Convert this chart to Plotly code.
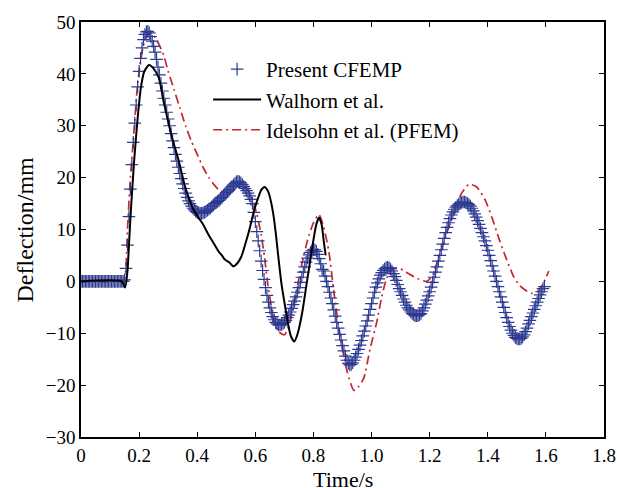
import plotly.graph_objects as go

# ---------------- data ----------------
# Present CFEMP, sampled every 0.005 s from t = 0
present_dt = 0.005
present_y = [
    0, 0, 0, 0, 0, 0, 0, 0, 0, 0,
    0, 0, 0, 0, 0, 0, 0, 0, 0, 0,
    0, 0, 0, 0, 0, 0, 0, 0, 0, 0,
    0.3, 2.5, 7, 12.5, 17.8, 22.5, 26.8, 30.5, 34, 37.5,
    40.5, 43, 45, 46.6, 47.6, 48.1, 48.2, 47.9, 47.2, 46.3,
    45.3, 44.2, 42.8, 41.3, 39.8, 38.2, 36.7, 35.3, 34, 32.6,
    31.3, 30, 28.5, 27.1, 25.8, 24.5, 23.2, 22, 20.8, 19.8,
    18.8, 17.9, 17, 16.2, 15.5, 15, 14.5, 14.1, 13.8, 13.5,
    13.3, 13.2, 13.1, 13.1, 13.2, 13.3, 13.5, 13.7, 13.9, 14.1,
    14.4, 14.7, 15, 15.2, 15.4, 15.6, 15.9, 16.2, 16.5, 16.8,
    17.1, 17.4, 17.7, 18, 18.3, 18.6, 18.9, 19.2, 19.3, 19.2,
    19, 18.7, 18.3, 17.9, 17.5, 17, 16.5, 15.8, 15, 13.3,
    11.5, 9.6, 7.8, 5.9, 3.9, 2.1, 0.4, -1.2, -2.7, -4.0,
    -5.1, -6.0, -6.8, -7.4, -7.9, -8.2, -8.4, -8.4, -8.3, -8.1,
    -7.9, -7.5, -7.0, -6.5, -5.9, -5.2, -4.5, -3.8, -3.0, -2.1,
    -1.2, -0.2, 0.8, 1.8, 2.8, 3.7, 4.5, 5.1, 5.6, 5.9,
    6.1, 6.1, 5.8, 5.2, 4.4, 3.4, 2.3, 2.0, 1.0, 0.0,
    -1.0, -2.1, -3.2, -4.3, -5.5, -6.7, -7.9, -9.0, -10.2, -11.3,
    -12.4, -13.4, -14.4, -15.2, -15.8, -16.1, -16.0, -15.7, -15.2, -14.6,
    -13.9, -13.1, -12.3, -11.4, -10.5, -9.6, -8.6, -7.6, -6.5, -5.4,
    -4.3, -3.2, -2.1, -1.1, -0.3, 0.5, 1.2, 1.7, 2.1, 2.4,
    2.6, 2.7, 2.6, 2.4, 2.0, 1.5, 0.9, 0.2, -0.6, -1.4,
    -2.0, -2.7, -3.4, -4.0, -4.6, -5.1, -5.5, -5.9, -6.2, -6.4,
    -6.6, -6.6, -6.6, -6.4, -6.2, -5.7, -5.1, -4.4, -3.6, -2.8,
    -2.0, -1.1, -0.2, 0.8, 1.8, 2.8, 3.9, 5.0, 6.1, 7.2,
    8.3, 9.4, 10.4, 11.3, 12.1, 12.8, 13.4, 13.9, 14.3, 14.6,
    14.9, 15.1, 15.2, 15.3, 15.3, 15.2, 15.0, 14.8, 14.5, 14.1,
    13.6, 13.0, 12.4, 11.7, 11.0, 10.2, 9.4, 8.6, 7.8, 6.9,
    6.0, 5.0, 4.0, 3.0, 2.0, 1.0, 0.0, -1.0, -2.0, -3.0,
    -4.0, -5.0, -6.0, -7.0, -7.9, -8.7, -9.4, -10.0, -10.4, -10.8,
    -11.0, -11.1, -11.1, -11.0, -10.7, -10.3, -9.7, -9.0, -8.2, -7.5,
    -6.8, -6.1, -5.4, -4.7, -4.0, -3.3, -2.6, -2.0, -1.4, -1.0,
]
present_t = [round(i * present_dt, 3) for i in range(len(present_y))]

walhorn_t = [0, 0.14, 0.152, 0.16, 0.166, 0.172, 0.183, 0.195, 0.206, 0.218,
             0.234, 0.25, 0.268, 0.285, 0.30, 0.313, 0.336, 0.359, 0.376, 0.39,
             0.404, 0.42, 0.438, 0.455, 0.473, 0.485, 0.495, 0.51, 0.524, 0.538,
             0.552, 0.567, 0.581, 0.595, 0.609, 0.62, 0.632, 0.645, 0.66, 0.67,
             0.677, 0.69, 0.70, 0.712, 0.722, 0.734, 0.745, 0.762, 0.775, 0.785,
             0.80, 0.81, 0.819, 0.828, 0.836, 0.842]
walhorn_y = [0, 0, -1.2, 2, 8, 14, 23.3, 31.5, 37.3, 40.5,
             41.7, 41, 39.2, 34.5, 30.8, 27.8, 23.3, 18.1, 15.3, 13.5,
             12.3, 11, 9.1, 7.5, 5.8, 5, 4.2, 3.7, 2.9, 3.5,
             4.8, 7.5, 10.3, 13.5, 16, 17.6, 18.2, 17.2, 13.6, 9.5,
             5.8, -0.5, -4, -8, -10.5, -11.6, -10.2, -5.8, -1, 2.6,
             8, 11, 12.3, 11, 7.5, 5]

idelsohn_t = [0, 0.14, 0.15, 0.155, 0.16, 0.17, 0.177, 0.185, 0.194, 0.205,
              0.215, 0.225, 0.235, 0.245, 0.257, 0.27, 0.285, 0.30, 0.32, 0.34,
              0.36, 0.38, 0.40, 0.42, 0.44, 0.46, 0.48, 0.50, 0.52, 0.54,
              0.56, 0.575, 0.59, 0.605, 0.62, 0.632, 0.643, 0.655, 0.666, 0.68,
              0.70, 0.715, 0.734, 0.755, 0.779, 0.80, 0.819, 0.835, 0.853, 0.87,
              0.893, 0.916, 0.939, 0.955, 0.973, 0.995, 1.018, 1.035, 1.052, 1.07,
              1.086, 1.10, 1.13, 1.16, 1.19, 1.21, 1.235, 1.26, 1.29, 1.31,
              1.335, 1.36, 1.39, 1.415, 1.44, 1.465, 1.49, 1.51, 1.53, 1.55,
              1.57, 1.59, 1.61]
idelsohn_y = [0, 0, 0.5, 3, 10, 20, 25, 31, 37.5, 42.5,
              45.5, 47.2, 47.8, 47.6, 46.8, 45.5, 43.5, 40.5, 37, 33.5,
              30, 27, 24.5, 22, 20, 18.5, 17.3, 16.9, 17.3, 18,
              18.2, 17.6, 15.8, 13, 9, 4.5, -0.6, -4.8, -8.2, -9.7,
              -10.3, -8.6, -4, 2, 7.8, 11.3, 12.9, 10.5, 5.8, -1.9,
              -11, -17.4, -21, -20.3, -18.7, -13, -7.8, -3, 0.6, 2.2,
              2.6, 2.4, 1.4, 0.5, 0, 1.2, 5.3, 9.5, 14.2, 17,
              18.7, 18.3, 15.8, 12.2, 8, 4.2, 0.8, -0.8, -1.7, -2.3,
              -2, -0.5, 2]

x_tickvals = [0, 0.2, 0.4, 0.6, 0.8, 1.0, 1.2, 1.4, 1.6, 1.8]
x_ticktext = ["0", "0.2", "0.4", "0.6", "0.8", "1.0", "1.2", "1.4", "1.6", "1.8"]
y_tickvals = [-30, -20, -10, 0, 10, 20, 30, 40, 50]
x_title = "Time/s"
y_title = "Deflection/mm"

# ---------------- figure ----------------
FONT = "Liberation Serif, Times New Roman, serif"
fig = go.Figure()

fig.add_trace(go.Scatter(
    x=idelsohn_t, y=idelsohn_y, mode="lines", name="Idelsohn et al. (PFEM)",
    line=dict(color="#c4262e", width=1.7, dash="9px,4px,2px,4px", shape="spline", smoothing=0.6),
    legendgroup="c", legendrank=3,
))
fig.add_trace(go.Scatter(
    x=present_t, y=present_y, mode="markers", name="Present CFEMP",
    marker=dict(symbol="cross-thin", size=9, line=dict(color="#2d3a92", width=1.2)),
    legendgroup="a", legendrank=1,
))
fig.add_trace(go.Scatter(
    x=walhorn_t, y=walhorn_y, mode="lines", name="Walhorn et al.",
    line=dict(color="black", width=2, shape="spline", smoothing=0.6),
    legendgroup="b", legendrank=2,
))

axis_common = dict(
    showline=True, linecolor="black", linewidth=1.5, mirror="ticks",
    ticks="inside", ticklen=5, tickwidth=1.2, tickcolor="black",
    showgrid=False, zeroline=False, automargin=False,
    tickfont=dict(family=FONT, size=19, color="black"),
)

fig.update_xaxes(range=[0, 1.8], tickvals=x_tickvals, ticktext=x_ticktext, **axis_common)
fig.update_yaxes(range=[-30, 50], tickvals=y_tickvals, **axis_common)

fig.add_annotation(text=x_title, xref="paper", yref="paper", x=0.5, y=0,
                   xanchor="center", yanchor="top", yshift=-28, showarrow=False,
                   font=dict(family=FONT, size=22, color="black"))
fig.add_annotation(text=y_title, xref="paper", yref="paper", x=0, y=0.5,
                   xanchor="right", yanchor="middle", xshift=-42, textangle=-90,
                   showarrow=False, font=dict(family=FONT, size=24, color="black"))

fig.update_layout(
    width=617, height=488,
    margin=dict(l=81, r=13, t=22, b=51),
    paper_bgcolor="white", plot_bgcolor="white",
    font=dict(family=FONT, color="black"),
    legend=dict(x=0.243, y=0.935, xanchor="left", yanchor="top",
                bgcolor="rgba(0,0,0,0)", borderwidth=0,
                font=dict(family=FONT, size=21, color="black"),
                traceorder="grouped", tracegroupgap=0, itemwidth=48),
)

fig.write_html("out.html")
